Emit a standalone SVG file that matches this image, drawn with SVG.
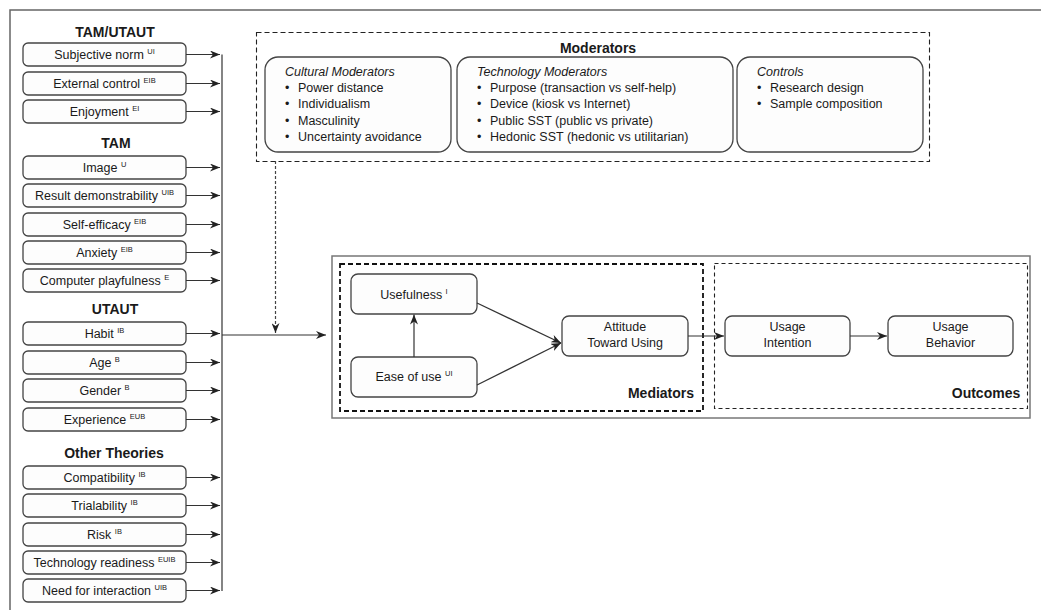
<svg xmlns="http://www.w3.org/2000/svg" width="1041" height="610" viewBox="0 0 1041 610">
<defs>
<style>
text{font-family:"Liberation Sans",Arial,sans-serif;fill:#1a1a1a;}
.bx{fill:#fdfdfd;stroke:#444;stroke-width:1.3;}
.t{font-size:12.5px;text-anchor:middle;}
.sup{font-size:7.5px;}
.h{font-size:14px;font-weight:bold;text-anchor:middle;}
.it{font-size:12.5px;font-style:italic;}
.li{font-size:12.5px;}
.ln{stroke:#333;stroke-width:1.2;fill:none;}
</style>
<marker id="ah" markerUnits="userSpaceOnUse" markerWidth="10" markerHeight="8" refX="10" refY="4" orient="auto">
<path d="M0,0 L10,4 L0,8 L3,4 z" fill="#222"/>
</marker>
</defs>
<rect width="1041" height="610" fill="#ffffff"/>
<path d="M10,610 V10 H1041" fill="none" stroke="#666" stroke-width="1.5"/>

<g id="left-titles">
<text class="h" x="115" y="37">TAM/UTAUT</text>
<text class="h" x="116" y="148">TAM</text>
<text class="h" x="115" y="314">UTAUT</text>
<text class="h" x="114" y="458">Other Theories</text>
</g>

<g id="n-subjective-norm"><rect class="bx" x="23" y="43" width="163" height="23" rx="5"/><text class="t" x="104.5" y="59">Subjective norm <tspan class="sup" dy="-5">UI</tspan></text></g>
<g id="n-external-control"><rect class="bx" x="23" y="72" width="163" height="23" rx="5"/><text class="t" x="104.5" y="88">External control <tspan class="sup" dy="-5">EIB</tspan></text></g>
<g id="n-enjoyment"><rect class="bx" x="23" y="100" width="163" height="23" rx="5"/><text class="t" x="104.5" y="116">Enjoyment <tspan class="sup" dy="-5">EI</tspan></text></g>
<g id="n-image"><rect class="bx" x="23" y="156" width="163" height="23" rx="5"/><text class="t" x="104.5" y="172">Image <tspan class="sup" dy="-5">U</tspan></text></g>
<g id="n-result-demonstrability"><rect class="bx" x="23" y="184" width="163" height="23" rx="5"/><text class="t" x="104.5" y="200">Result demonstrability <tspan class="sup" dy="-5">UIB</tspan></text></g>
<g id="n-self-efficacy"><rect class="bx" x="23" y="213" width="163" height="23" rx="5"/><text class="t" x="104.5" y="229">Self-efficacy <tspan class="sup" dy="-5">EIB</tspan></text></g>
<g id="n-anxiety"><rect class="bx" x="23" y="241" width="163" height="23" rx="5"/><text class="t" x="104.5" y="257">Anxiety <tspan class="sup" dy="-5">EIB</tspan></text></g>
<g id="n-computer-playfulness"><rect class="bx" x="23" y="269" width="163" height="23" rx="5"/><text class="t" x="104.5" y="285">Computer playfulness <tspan class="sup" dy="-5">E</tspan></text></g>
<g id="n-habit"><rect class="bx" x="23" y="322" width="163" height="23" rx="5"/><text class="t" x="104.5" y="338">Habit <tspan class="sup" dy="-5">IB</tspan></text></g>
<g id="n-age"><rect class="bx" x="23" y="351" width="163" height="23" rx="5"/><text class="t" x="104.5" y="367">Age <tspan class="sup" dy="-5">B</tspan></text></g>
<g id="n-gender"><rect class="bx" x="23" y="379" width="163" height="23" rx="5"/><text class="t" x="104.5" y="395">Gender <tspan class="sup" dy="-5">B</tspan></text></g>
<g id="n-experience"><rect class="bx" x="23" y="408" width="163" height="23" rx="5"/><text class="t" x="104.5" y="424">Experience <tspan class="sup" dy="-5">EUB</tspan></text></g>
<g id="n-compatibility"><rect class="bx" x="23" y="466" width="163" height="23" rx="5"/><text class="t" x="104.5" y="482">Compatibility <tspan class="sup" dy="-5">IB</tspan></text></g>
<g id="n-trialability"><rect class="bx" x="23" y="494" width="163" height="23" rx="5"/><text class="t" x="104.5" y="510">Trialability <tspan class="sup" dy="-5">IB</tspan></text></g>
<g id="n-risk"><rect class="bx" x="23" y="523" width="163" height="23" rx="5"/><text class="t" x="104.5" y="539">Risk <tspan class="sup" dy="-5">IB</tspan></text></g>
<g id="n-technology-readiness"><rect class="bx" x="23" y="551" width="163" height="23" rx="5"/><text class="t" x="104.5" y="567">Technology readiness <tspan class="sup" dy="-5">EUIB</tspan></text></g>
<g id="n-need-for-interaction"><rect class="bx" x="23" y="579" width="163" height="23" rx="5"/><text class="t" x="104.5" y="595">Need for interaction <tspan class="sup" dy="-5">UIB</tspan></text></g>

<g id="moderators">
<rect x="256.5" y="32.5" width="673" height="129" fill="none" stroke="#222" stroke-width="1.1" stroke-dasharray="5,3"/>
<text class="h" x="598" y="53">Moderators</text>
<g id="n-cultural-moderators">
<rect class="bx" x="265" y="57" width="186" height="95" rx="13"/>
<text class="it" x="285" y="76">Cultural Moderators</text>
<text class="li" x="285" y="92">•<tspan x="298">Power distance</tspan></text>
<text class="li" x="285" y="108">•<tspan x="298">Individualism</tspan></text>
<text class="li" x="285" y="125">•<tspan x="298">Masculinity</tspan></text>
<text class="li" x="285" y="141">•<tspan x="298">Uncertainty avoidance</tspan></text>
</g>
<g id="n-technology-moderators">
<rect class="bx" x="457" y="57" width="276" height="95" rx="13"/>
<text class="it" x="477" y="76">Technology Moderators</text>
<text class="li" x="477" y="92">•<tspan x="490">Purpose (transaction vs self-help)</tspan></text>
<text class="li" x="477" y="108">•<tspan x="490">Device (kiosk vs Internet)</tspan></text>
<text class="li" x="477" y="125">•<tspan x="490">Public SST (public vs private)</tspan></text>
<text class="li" x="477" y="141">•<tspan x="490">Hedonic SST (hedonic vs utilitarian)</tspan></text>
</g>
<g id="n-controls">
<rect class="bx" x="737" y="57" width="186" height="95" rx="13"/>
<text class="it" x="757" y="76">Controls</text>
<text class="li" x="757" y="92">•<tspan x="770">Research design</tspan></text>
<text class="li" x="757" y="108">•<tspan x="770">Sample composition</tspan></text>
</g>
</g>

<g id="outcome-frame">
<rect x="332" y="256" width="698" height="162" fill="none" stroke="#777" stroke-width="1.5"/>
<rect id="mediators" x="340" y="264" width="363" height="147" fill="none" stroke="#111" stroke-width="1.8" stroke-dasharray="5,3"/>
<text class="h" x="661" y="398">Mediators</text>
<rect id="outcomes" x="714.5" y="263.5" width="313" height="145" fill="none" stroke="#222" stroke-width="1.1" stroke-dasharray="4,3"/>
<text class="h" x="986" y="398">Outcomes</text>
</g>

<g id="n-usefulness"><rect class="bx" x="351" y="274" width="126" height="40" rx="7"/><text class="t" x="414" y="299">Usefulness <tspan class="sup" dy="-5">I</tspan></text></g>
<g id="n-ease-of-use"><rect class="bx" x="351" y="357" width="126" height="40" rx="7"/><text class="t" x="414" y="381">Ease of use <tspan class="sup" dy="-5">UI</tspan></text></g>
<g id="n-attitude"><rect class="bx" x="562" y="316" width="126" height="40" rx="7"/><text class="t" x="625" y="331">Attitude</text><text class="t" x="625" y="347">Toward Using</text></g>
<g id="n-usage-intention"><rect class="bx" x="725" y="316" width="125" height="40" rx="7"/><text class="t" x="787.5" y="331">Usage</text><text class="t" x="787.5" y="347">Intention</text></g>
<g id="n-usage-behavior"><rect class="bx" x="888" y="316" width="125" height="40" rx="7"/><text class="t" x="950.5" y="331">Usage</text><text class="t" x="950.5" y="347">Behavior</text></g>

<g id="connectors">
<path class="ln" d="M186,54.5 H220" marker-end="url(#ah)"/>
<path class="ln" d="M186,83.5 H220" marker-end="url(#ah)"/>
<path class="ln" d="M186,111.5 H220" marker-end="url(#ah)"/>
<path class="ln" d="M186,167.5 H220" marker-end="url(#ah)"/>
<path class="ln" d="M186,195.5 H220" marker-end="url(#ah)"/>
<path class="ln" d="M186,224.5 H220" marker-end="url(#ah)"/>
<path class="ln" d="M186,252.5 H220" marker-end="url(#ah)"/>
<path class="ln" d="M186,280.5 H220" marker-end="url(#ah)"/>
<path class="ln" d="M186,333.5 H220" marker-end="url(#ah)"/>
<path class="ln" d="M186,362.5 H220" marker-end="url(#ah)"/>
<path class="ln" d="M186,390.5 H220" marker-end="url(#ah)"/>
<path class="ln" d="M186,419.5 H220" marker-end="url(#ah)"/>
<path class="ln" d="M186,477.5 H220" marker-end="url(#ah)"/>
<path class="ln" d="M186,505.5 H220" marker-end="url(#ah)"/>
<path class="ln" d="M186,534.5 H220" marker-end="url(#ah)"/>
<path class="ln" d="M186,562.5 H220" marker-end="url(#ah)"/>
<path class="ln" d="M186,590.5 H220" marker-end="url(#ah)"/>
<path class="ln" d="M222,54.5 V591"/>
<path class="ln" d="M222,335 H326" marker-end="url(#ah)"/>
<path d="M275.5,161 V333" fill="none" stroke="#444" stroke-width="1.2" stroke-dasharray="3,2" marker-end="url(#ah)"/>
<path class="ln" d="M414,357 V314.5" marker-end="url(#ah)"/>
<path class="ln" d="M477,303 L561,343" marker-end="url(#ah)"/>
<path class="ln" d="M477,385 L561,343" marker-end="url(#ah)"/>
<path class="ln" d="M688,336 H724" marker-end="url(#ah)"/>
<path class="ln" d="M850,336 H887" marker-end="url(#ah)"/>
</g>
</svg>
